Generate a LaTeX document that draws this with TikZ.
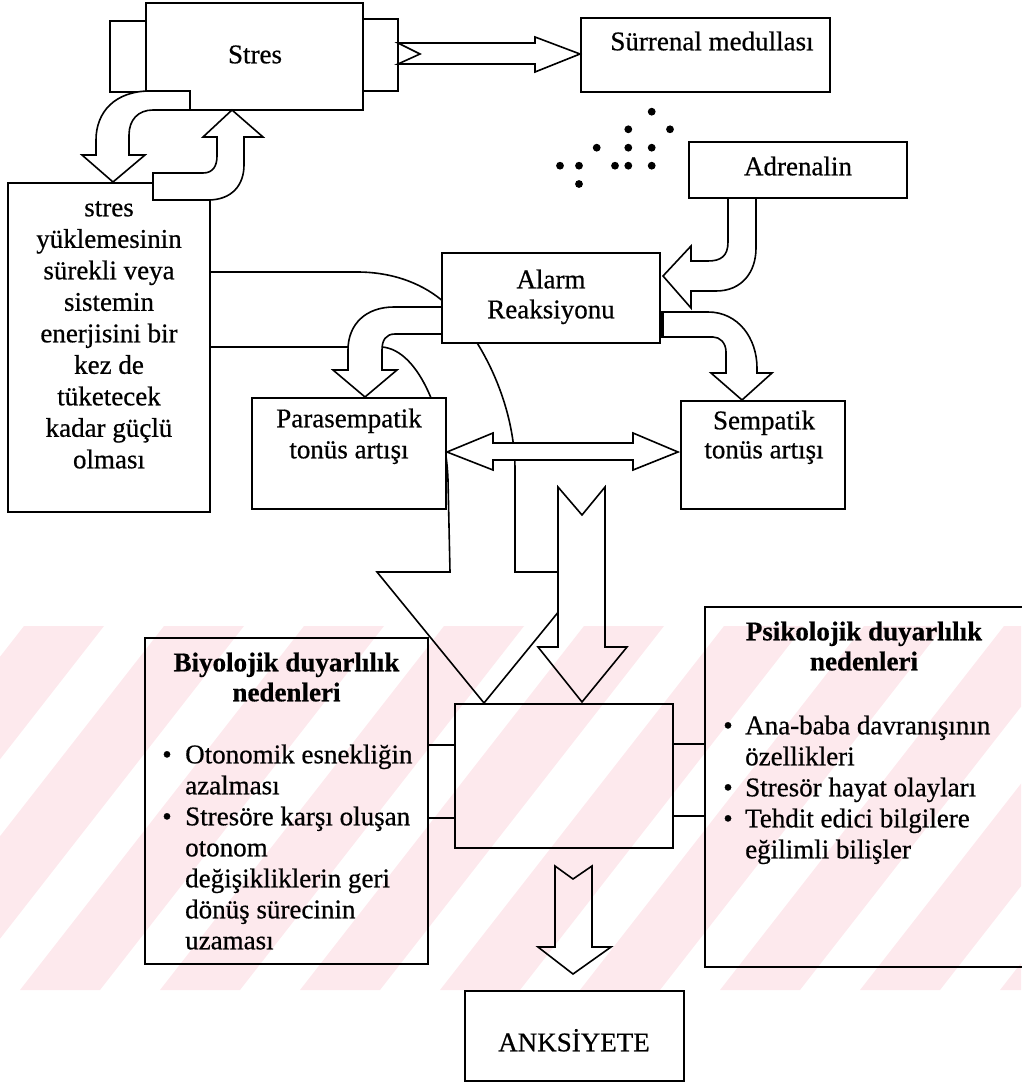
\documentclass[tikz,border=0pt]{standalone}
\usepackage{fontspec}
\setmainfont[FakeBold=0.6]{Liberation Serif}
\definecolor{wm}{RGB}{253,233,237}
\begin{document}
\begin{tikzpicture}[x=1pt,y=-1pt,
  box/.style={draw, line width=1.6pt, inner sep=0pt},
  wbox/.style={box, fill=white},
  blk/.style={draw, line width=1.6pt, fill=white, line join=miter},
  ln/.style={draw, line width=1.6pt},
  txt/.style={font=\fontsize{27}{31}\selectfont, inner sep=0pt, anchor=mid},
  ltxt/.style={txt, anchor=mid west},
  btxt/.style={txt, font=\fontsize{27}{31}\selectfont\bfseries}]
\useasboundingbox (0,0) rectangle (1021,1083);

% upper boxes
\node[box, minimum width=202pt, minimum height=329pt] (left) at (109,347.5) {};
\node[box, minimum width=36pt, minimum height=71pt] (tabl) at (128,56.5) {};
\node[box, minimum width=35pt, minimum height=72pt] (tabr) at (380.5,55) {};
\node[wbox, minimum width=217pt, minimum height=107pt] (stres) at (254.5,56.5) {};
\node[box, minimum width=249pt, minimum height=74pt] (surr) at (705.5,55) {};
\node[box, minimum width=218pt, minimum height=56pt] (adr) at (798,170) {};

% dots
\foreach \p in {(651.7,111.7),(628.3,129.3),(670,129.3),(596.7,147.7),(628.3,147.7),(651.7,147.7),(560,165.7),(579,165.7),(615,165.7),(628.3,165.7),(651.7,165.7),(579,184)}
  \fill \p circle (3.9pt);

% big curved arrow (mostly hidden)
\draw[blk] (210,272) -- (357,272) .. controls (395,272) and (425,285) .. (445,303)
  .. controls (478,333) and (515,400) .. (515,470) -- (515,572) -- (591,572) -- (484,703)
  -- (377,572) -- (450,572) -- (448,480) .. controls (446,420) and (420,350) .. (382,347)
  -- (210,347) -- cycle;

\node[wbox, minimum width=218pt, minimum height=90pt] (alarm) at (551,298) {};
\node[wbox, minimum width=194pt, minimum height=111pt] (para) at (349,453.5) {};

% Stres <-> left box arrows
\draw[blk] (190,91) -- (150,91) .. controls (115,91) and (96,112) .. (96,140) -- (96,155)
  -- (82,155) -- (113,182) -- (145,155) -- (129,155) -- (129,135)
  .. controls (129,120) and (138,110) .. (153,110) -- (190,110) -- cycle;
\draw[blk] (153,173) -- (203,173) .. controls (213,173) and (217,166) .. (217,156) -- (217,137)
  -- (203,137) -- (232,110) -- (263,137) -- (244,137) -- (244,165)
  .. controls (244,185) and (232,200) .. (208,200) -- (153,200) -- cycle;

% Stres -> Surrenal
\draw[blk] (398,43) -- (535,43) -- (535,37) -- (580,54) -- (535,72) -- (535,64) -- (398,64) -- (420,54) -- cycle;

% Adrenalin -> Alarm
\draw[blk] (728,198) -- (728,242) .. controls (728,256) and (721,261) .. (708,261) -- (691,261)
  -- (691,246) -- (663,276) -- (691,308) -- (691,291) -- (716,291)
  .. controls (742,291) and (756,272) .. (756,248) -- (756,198) -- cycle;

% Alarm -> Sempatik
\draw[blk] (661,312) -- (708,312) .. controls (738,312) and (757,338) .. (757,368) -- (757,373)
  -- (772,373) -- (742,400) -- (711,373) -- (726,373) -- (726,352)
  .. controls (726,343) and (720,337) .. (713,337) -- (661,337) -- cycle;
\fill (659,311) rectangle (664,338);

% Alarm -> Parasempatik
\draw[blk] (442,307) -- (394,307) .. controls (366,307) and (348,324) .. (348,350) -- (348,370)
  -- (333,370) -- (365,397) -- (397,370) -- (382,370) -- (382,350)
  .. controls (382,340) and (386,334) .. (395,334) -- (442,334) -- cycle;

\node[wbox, minimum width=164pt, minimum height=108pt] (semp) at (763,455) {};

% double arrow
\draw[blk] (447,452) -- (493,433) -- (493,443) -- (633,443) -- (633,433) -- (678,452)
  -- (633,470) -- (633,460) -- (493,460) -- (493,470) -- cycle;

% central notched arrow
\draw[blk] (558,487) -- (582,515) -- (605,487) -- (605,647) -- (627,647) -- (582,702)
  -- (538,647) -- (558,647) -- cycle;

% lower boxes
\node[box, minimum width=283pt, minimum height=326pt] (biyo) at (286.5,801) {};
\node[box, minimum width=218pt, minimum height=144pt] (mid) at (564,776) {};
\node[box, minimum width=335pt, minimum height=360pt] (psi) at (872.5,787) {};
\node[box, minimum width=219pt, minimum height=90pt] (anks) at (574.5,1036) {};

\coordinate (r1) at (0,745);
\coordinate (r2) at (0,818);
\coordinate (r3) at (0,744);
\coordinate (r4) at (0,816);
\draw[ln] (biyo.east |- r1) -- (mid.west |- r1);
\draw[ln] (biyo.east |- r2) -- (mid.west |- r2);
\draw[ln] (mid.east |- r3) -- (psi.west |- r3);
\draw[ln] (mid.east |- r4) -- (psi.west |- r4);

% bottom notched arrow
\draw[blk] (555,866) -- (573,879) -- (592,866) -- (592,947) -- (611,947) -- (573,974)
  -- (538,947) -- (555,947) -- cycle;

% texts
\node[txt] (tstres) at (255,61) {Stres};
\node[txt] (tsurr) at (712,48) {Sürrenal medullası};
\node[txt] (tadr) at (798,173) {Adrenalin};
\node[txt] (tal1) at (551,286) {Alarm};
\node[txt] (tal2) at (551,316) {Reaksiyonu};
\node[txt] (tpa1) at (349,425) {Parasempatik};
\node[txt] (tpa2) at (349,456) {tonüs artışı};
\node[txt] (tse1) at (764,427) {Sempatik};
\node[txt] (tse2) at (764,456) {tonüs artışı};
\node[txt] (tl1) at (109,214) {stres};
\node[txt] (tl2) at (109,245.5) {yüklemesinin};
\node[txt] (tl3) at (109,277) {sürekli veya};
\node[txt] (tl4) at (109,308.5) {sistemin};
\node[txt] (tl5) at (109,340) {enerjisini bir};
\node[txt] (tl6) at (109,371.5) {kez de};
\node[txt] (tl7) at (109,403) {tüketecek};
\node[txt] (tl8) at (109,434.5) {kadar güçlü};
\node[txt] (tl9) at (109,466) {olması};

\node[btxt] (bh1) at (286.5,669) {Biyolojik duyarlılık};
\node[btxt] (bh2) at (286.5,699) {nedenleri};
\node[txt] (bb1) at (167,761) {•};
\node[ltxt] (bt1) at (185,761) {Otonomik esnekliğin};
\node[ltxt] (bt2) at (185,792) {azalması};
\node[txt] (bb2) at (167,823) {•};
\node[ltxt] (bt3) at (185,823) {Stresöre karşı oluşan};
\node[ltxt] (bt4) at (185,854) {otonom};
\node[ltxt] (bt5) at (185,885) {değişikliklerin geri};
\node[ltxt] (bt6) at (185,916) {dönüş sürecinin};
\node[ltxt] (bt7) at (185,947) {uzaması};

\node[btxt] (ph1) at (864,638) {Psikolojik duyarlılık};
\node[btxt] (ph2) at (864,668) {nedenleri};
\node[txt] (pb1) at (728,732) {•};
\node[ltxt] (pt1) at (745,732) {Ana-baba davranışının};
\node[ltxt] (pt2) at (745,763) {özellikleri};
\node[txt] (pb2) at (728,794) {•};
\node[ltxt] (pt3) at (745,794) {Stresör hayat olayları};
\node[txt] (pb3) at (728,825) {•};
\node[ltxt] (pt4) at (745,825) {Tehdit edici bilgilere};
\node[ltxt] (pt5) at (745,856) {eğilimli bilişler};

\node[txt] (tanks) at (574,1049) {ANKSİYETE};

% watermark
\begin{scope}[blend mode=multiply]
  \clip (0,626) rectangle (1021,990);
  \foreach \x in {-400,-260,...,1100}
    \fill[wm] (\x,990) -- (\x+80,990) -- (\x+364,626) -- (\x+284,626) -- cycle;
\end{scope}
\end{tikzpicture}
\end{document}
